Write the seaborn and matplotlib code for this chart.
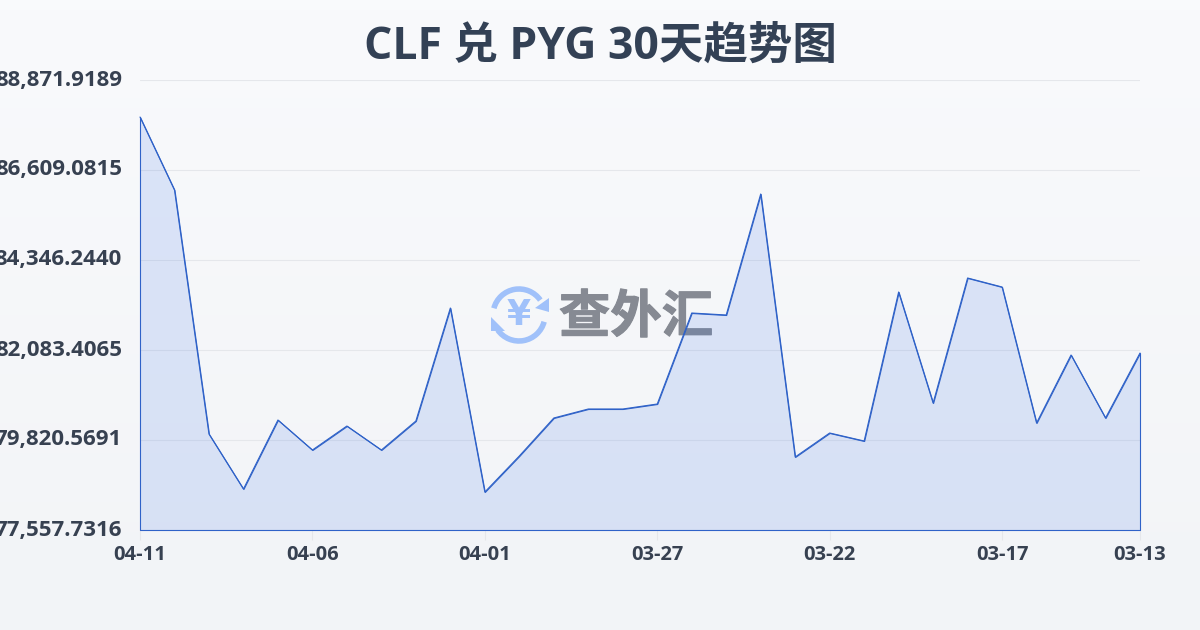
import numpy as np
import pandas as pd
import seaborn as sns
import matplotlib
matplotlib.use("Agg")
import matplotlib.pyplot as plt
import matplotlib.patheffects as pe
from matplotlib.colors import LinearSegmentedColormap
from matplotlib.patches import Arc, Polygon

dates = ["04-11", "04-10", "04-09", "04-08", "04-07", "04-06", "04-05", "04-04", "04-03", "04-02",
         "04-01", "03-31", "03-30", "03-29", "03-28", "03-27", "03-26", "03-25", "03-24", "03-23",
         "03-22", "03-21", "03-20", "03-19", "03-18", "03-17", "03-16", "03-15", "03-14", "03-13"]
rates = [87941.7, 86106.2, 79971.4, 78588.6, 80323.4, 79569.1, 80172.5, 79569.1, 80298.3, 83139.4,
         78513.1, 79418.3, 80373.7, 80600.0, 80600.0, 80725.7, 83013.7, 82963.4, 86005.6, 79393.1,
         79996.5, 79795.4, 83541.7, 80750.7, 83893.7, 83667.4, 80248.0, 81957.7, 80373.7, 82007.7]
y_ticks = [77557.7316, 79820.5691, 82083.4065, 84346.2440, 86609.0815, 88871.9189]
x_tick_pos = [0, 5, 10, 15, 20, 25, 29]

LINE = "#2f62c8"
TEXT = "#374151"
TITLE = "#334155"
GRID = "#e5e7eb"
LOGO = "#a0c1fa"
FONTS = ["Open Sans", "Noto Sans CJK SC", "DejaVu Sans"]

sns.set_theme(style="white")
plt.rcParams["font.family"] = FONTS

df = pd.DataFrame({"date": dates, "rate": rates})
df["pos"] = df.index

fig = plt.figure(figsize=(12, 6.3), dpi=100)

# page background, light vertical gradient
bg = fig.add_axes([0, 0, 1, 1], zorder=0)
cmap = LinearSegmentedColormap.from_list("bg", ["#f9fafc", "#f2f4f7"])
bg.imshow(np.linspace(0, 1, 64).reshape(-1, 1), aspect="auto", cmap=cmap, extent=[0, 1200, 630, 0])
bg.set_xlim(0, 1200)
bg.set_ylim(630, 0)
bg.axis("off")

# watermark sits under the chart
bg.text(636, 317, "查外汇", fontsize=37, fontweight="bold", color="#868a93",
        ha="center", va="center", family=["Noto Sans CJK SC"],
        path_effects=[pe.withStroke(linewidth=0.8, foreground="#868a93")])
cx, cy, r = 519, 315, 26
bg.add_patch(Arc((cx, cy), 2 * r, 2 * r, theta1=195, theta2=325, color=LOGO, lw=4))
bg.add_patch(Arc((cx, cy), 2 * r, 2 * r, theta1=15, theta2=145, color=LOGO, lw=4))
bg.add_patch(Polygon([[549, 298], [549, 312], [535, 308]], closed=True, color=LOGO, lw=0))
bg.add_patch(Polygon([[491, 317], [491, 331], [505, 331]], closed=True, color=LOGO, lw=0))
bg.text(cx, cy, "¥", fontsize=25, fontweight="bold", color=LOGO, ha="center", va="center",
        family=["DejaVu Sans"])

ax = fig.add_axes([140 / 1200, 1 - 530 / 630, 1000 / 1200, 450 / 630], zorder=1)
ax.patch.set_alpha(0)

ax.fill_between(df["pos"], df["rate"], y_ticks[0], facecolor="#3970e626",
                edgecolor=LINE, linewidth=0.8, zorder=3, clip_on=False)
sns.lineplot(data=df, x="pos", y="rate", color=LINE, linewidth=0.8, ax=ax, zorder=4, clip_on=False)

ax.set_xlim(0, 29)
ax.set_ylim(y_ticks[0], y_ticks[-1])
ax.set_xticks(x_tick_pos)
ax.set_xticklabels([dates[i] for i in x_tick_pos], fontsize=14.5, fontweight="bold", color=TEXT)
ax.set_yticks(y_ticks)
ax.set_yticklabels([f"{v:,.4f}" for v in y_ticks], fontsize=16, fontweight="bold", color=TEXT,
                   va="center")
ax.set_xlabel("")
ax.set_ylabel("")
ax.grid(axis="y", color=GRID, linewidth=0.8)
ax.set_axisbelow(True)
ax.tick_params(axis="x", length=7, width=0.8, color=GRID, pad=4, bottom=True)
ax.tick_params(axis="y", length=0, pad=13)
for spine in ax.spines.values():
    spine.set_visible(False)

fig.text(0.5, 1 - 47 / 630, "CLF 兑 PYG 30天趋势图", fontsize=32, fontweight="bold", color=TITLE,
         ha="center", va="center")

fig.savefig("out.png", dpi=100)
